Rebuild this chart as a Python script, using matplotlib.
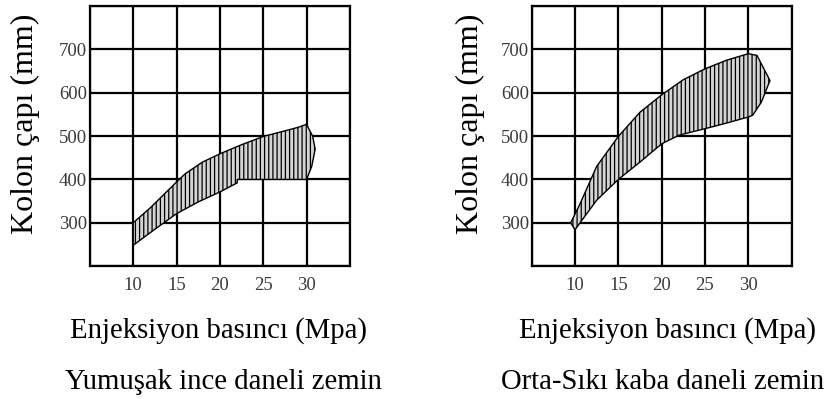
import numpy as np
import matplotlib
matplotlib.use("Agg")
from matplotlib import pyplot as plt

plt.rcParams['font.family'] = ['Liberation Serif', 'DejaVu Serif']
plt.rcParams['hatch.linewidth'] = 0.9

# grid / tick values
x_ticks = [10, 15, 20, 25, 30]
y_ticks = [300, 400, 500, 600, 700]
x_grid = [5, 10, 15, 20, 25, 30, 35]
y_grid = [200, 300, 400, 500, 600, 700, 800]

# left chart outline (Yumusak ince daneli zemin), clockwise from lower left
soft_x = [10, 10, 12, 15, 16, 18, 20, 22.5, 25, 27.5, 29, 30, 30.7, 31, 30.6, 30, 25, 22, 22, 20, 17.5, 15, 12.5, 10]
soft_y = [248, 300, 335, 394, 413, 440, 459, 480, 499, 512, 520, 527, 500, 470, 430, 400, 400, 400, 392, 371, 348, 321, 285, 248]

# right chart outline (Orta-Siki kaba daneli zemin)
hard_x = [9.5, 10.5, 12.5, 15, 17.5, 20, 22.5, 25, 27.5, 30, 31, 32.5, 31.5, 30.5, 30, 27.5, 25, 22, 20, 17.5, 15, 12.5, 10, 9.5]
hard_y = [300, 340, 430, 499, 555, 595, 630, 655, 675, 690, 686, 628, 578, 548, 544, 530, 517, 502, 482, 440, 400, 352, 284, 300]

fig = plt.figure(figsize=(8.32, 3.99), dpi=100)

def draw_panel(rect, px, py, title, xlab_x, title_x, ylab_x):
    ax = fig.add_axes(rect)
    ax.set_xlim(5, 35)
    ax.set_ylim(200, 800)
    for g in x_grid:
        ax.axvline(g, color='black', lw=1.6, zorder=1)
    for g in y_grid:
        ax.axhline(g, color='black', lw=1.6, zorder=1)
    ax.fill(px, py, facecolor='#d4d4d4', edgecolor='black', hatch='||||', lw=1.0, zorder=3)
    ax.set_xticks(x_ticks)
    ax.set_yticks(y_ticks)
    ax.tick_params(length=0, labelsize=13.5, labelcolor='#3a3a3a')
    ax.tick_params(axis='x', pad=8)
    ax.tick_params(axis='y', pad=2)
    for s in ax.spines.values():
        s.set_linewidth(1.6)
    fig.text(xlab_x, 0.153, 'Enjeksiyon basıncı (Mpa)', ha='center', va='baseline', fontsize=20.7)
    fig.text(title_x, 0.024, title, ha='center', va='baseline', fontsize=20.7)
    fig.text(ylab_x, 0.689, 'Kolon çapı (mm)', rotation=90, ha='center', va='center', fontsize=23)
    return ax

draw_panel([0.108, 0.333, 0.3125, 0.652], soft_x, soft_y, 'Yumuşak ince daneli zemin', 0.263, 0.269, 0.031)
draw_panel([0.639, 0.333, 0.3125, 0.652], hard_x, hard_y, 'Orta-Sıkı kaba daneli zemin', 0.802, 0.796, 0.566)

fig.savefig('out.png', dpi=100)
